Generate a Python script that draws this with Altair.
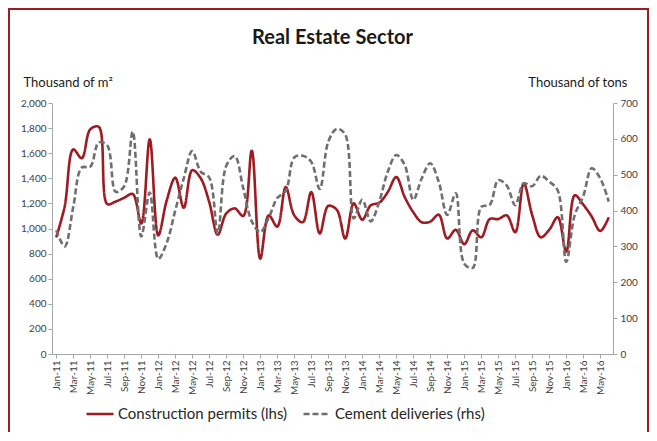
import altair as alt
import pandas as pd

mon = ["Jan", "Feb", "Mar", "Apr", "May", "Jun", "Jul", "Aug", "Sep", "Oct", "Nov", "Dec"]
months = [f"{m}-{y}" for y in range(11, 17) for m in mon][:66]

permits = [930, 1180, 1630, 1560, 1790, 1810, 1195, 1215, 1245, 1275, 1040, 1710,
           945, 1225, 1405, 1165, 1465, 1400, 1210, 950, 1120, 1160, 1100, 1620,
           760, 1105, 1015, 1330, 1105, 1050, 1290, 960, 1180, 1150, 920, 1200,
           1070, 1185, 1205, 1290, 1410, 1250, 1130, 1050, 1055, 1110, 920, 990,
           875, 985, 930, 1075, 1075, 1105, 970, 1360, 1105, 930, 990, 1090,
           815, 1265, 1190, 1095, 980, 1090]

cement = [345, 300, 410, 520, 522, 590, 582, 452, 468, 620, 328, 450,
          265, 310, 400, 490, 566, 508, 492, 336, 525, 552, 462, 370,
          340, 380, 435, 455, 548, 553, 536, 460, 592, 628, 612, 378,
          430, 370, 425, 508, 555, 527, 430, 490, 532, 480, 388, 448,
          252, 240, 410, 416, 485, 470, 415, 476, 468, 497, 481, 456,
          257, 388, 440, 518, 490, 425]

series_names = ["Construction permits (lhs)", "Cement deliveries (rhs)"]
left_ticks = list(range(0, 2001, 200))
right_ticks = list(range(0, 701, 100))
chart_title = "Real Estate Sector"

RED = "#9E1B22"
GRAY = "#6F6F6F"
AXIS_GRAY = "#A6A6A6"
TXT = "#404040"

df_p = pd.DataFrame({"month": months, "value": permits, "series": series_names[0]})
df_c = pd.DataFrame({"month": months, "value": cement, "series": series_names[1]})
one_row = pd.DataFrame({"a": [0]})

x_enc = alt.X("month:O", sort=months,
              scale=alt.Scale(type="point", padding=0.5),
              axis=alt.Axis(values=months[::2], labelAngle=-90, title=None,
                            labelFontSize=10, labelColor=TXT, labelPadding=2,
                            tickSize=4, tickColor=AXIS_GRAY, domainColor=AXIS_GRAY,
                            labelBaseline="middle", labelAlign="right"))

color_enc = alt.Color("series:N", scale=alt.Scale(domain=series_names, range=[RED, GRAY]), title=None)
dash_enc = alt.StrokeDash("series:N", scale=alt.Scale(domain=series_names, range=[[1, 0], [6, 3]]), title=None)

frame = alt.Chart(one_row).mark_rect(
    fillOpacity=0, stroke=RED, strokeWidth=2
).encode(x=alt.value(-43), x2=alt.value(596), y=alt.value(-94), y2=alt.value(345))

title_mark = alt.Chart(one_row).mark_text(
    font="Lato", fontSize=20, fontWeight="bold", color="#1a1a1a",
    align="center", baseline="alphabetic"
).encode(x=alt.value(280.5), y=alt.value(-59), text=alt.value(chart_title))

line_p = alt.Chart(df_p).mark_line(strokeWidth=2.6, interpolate="catmull-rom").encode(
    x=x_enc,
    y=alt.Y("value:Q", scale=alt.Scale(domain=[0, 2000], nice=False),
            axis=alt.Axis(values=left_ticks, format=",d", title="Thousand of m²",
                          titleAngle=0, titleAlign="left", titleBaseline="alphabetic",
                          titleX=-29, titleY=-17, titleFontSize=13, titleFontWeight="normal",
                          titleFont="Lato", titleColor="#1a1a1a",
                          labelFontSize=10, labelColor=TXT, labelPadding=2,
                          tickSize=4, tickColor=AXIS_GRAY, domainColor=AXIS_GRAY)),
    color=color_enc,
    strokeDash=dash_enc,
)

line_c = alt.Chart(df_c).mark_line(strokeWidth=2.6, interpolate="catmull-rom").encode(
    x=x_enc,
    y=alt.Y("value:Q", scale=alt.Scale(domain=[0, 700], nice=False),
            axis=alt.Axis(orient="right", values=right_ticks, format=",d", title="Thousand of tons",
                          titleAngle=0, titleAlign="right", titleBaseline="alphabetic",
                          titleX=14, titleY=-17, titleFontSize=13, titleFontWeight="normal",
                          titleFont="Lato", titleColor="#1a1a1a",
                          labelFontSize=10, labelColor=TXT, labelPadding=3,
                          tickSize=4, tickColor=AXIS_GRAY, domainColor=AXIS_GRAY)),
    color=color_enc,
    strokeDash=dash_enc,
)

chart = alt.layer(frame, title_mark, line_p, line_c).resolve_scale(y="independent").properties(
    width=561, height=251,
    autosize=alt.AutoSizeParams(type="none"),
    padding={"left": 44, "top": 95, "right": 36, "bottom": 78},
).configure_view(stroke=None).configure_axis(
    grid=False, labelFont="Lato"
).configure_legend(
    orient="none", legendX=33, legendY=296, direction="horizontal",
    symbolType="stroke", symbolSize=729, symbolStrokeWidth=2.6,
    labelFont="Lato", labelFontSize=15, labelColor="#262626", labelLimit=400,
    labelOffset=3, columnPadding=10, padding=0,
)

chart.save("out.html", embed_options={"renderer": "svg", "actions": False})
